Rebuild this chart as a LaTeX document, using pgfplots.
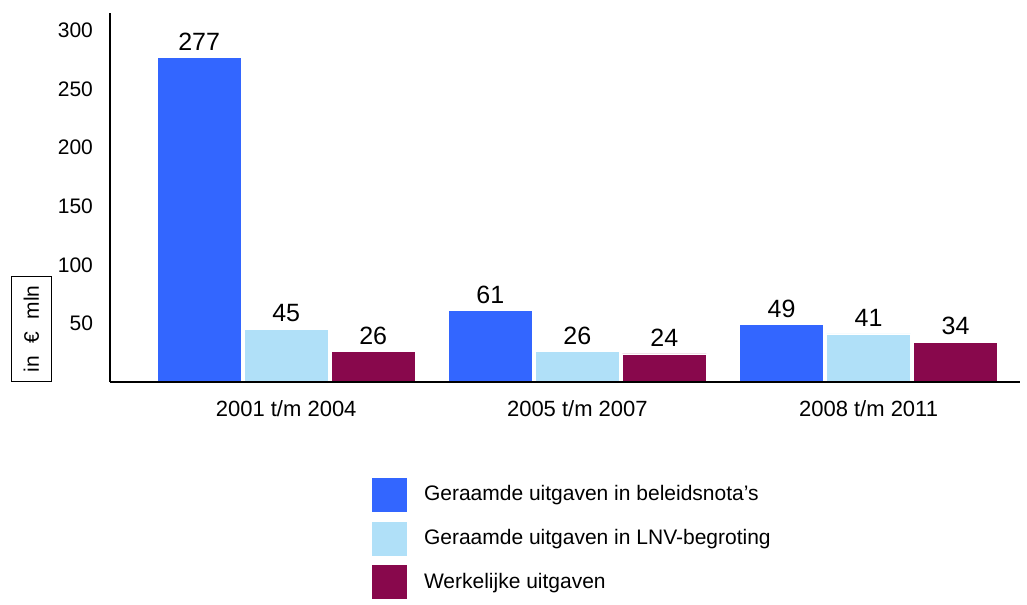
\documentclass[border=0pt]{standalone}
\usepackage{pgfplots}
\pgfplotsset{compat=1.18}
\usepackage{fontspec}
\setmainfont{Liberation Sans}
\definecolor{cA}{RGB}{51,102,255}
\definecolor{cB}{RGB}{176,224,248}
\definecolor{cC}{RGB}{136,8,76}
\begin{document}
\begin{tikzpicture}
\begin{axis}[
  name=ax,
  width=455pt, height=184.5pt, scale only axis,
  axis on top,
  ybar=1.5pt, bar width=42pt,
  xmin=-0.605, xmax=2.52, ymin=0, ymax=315,
  xtick={0,1,2}, xticklabels={2001 t/m 2004,2005 t/m 2007,2008 t/m 2011},
  ytick={50,100,150,200,250,300},
  major tick length=0pt,
  axis x line*=bottom, axis y line*=left,
  axis line style={black, line width=0.6pt, -},
  /pgf/number format/assume math mode=true,
  tick label style={font=\fontsize{10.5}{12}\selectfont},
  yticklabel style={xshift=-5pt},
  xticklabel style={yshift=-5.5pt, font=\fontsize{11}{13}\selectfont},
  nodes near coords,
  every node near coord/.append style={font=\fontsize{12.5}{14}\selectfont, black},
  legend style={at={(axis description cs:0.28,-0.245)}, anchor=north west, draw=none,
    font=\fontsize{10.5}{12}\selectfont, row sep=4pt,
    /tikz/every odd column/.append style={column sep=6pt}},
  legend cell align=left,
  legend image code/.code={\draw[#1, draw=white, line width=0.4pt] (0pt,-8.75pt) rectangle (18pt,8.75pt);},
]
\addplot[fill=cA, draw=white, line width=0.4pt] coordinates {(0,277) (1,61) (2,49)};
\addplot[fill=cB, draw=white, line width=0.4pt] coordinates {(0,45) (1,26) (2,41)};
\addplot[fill=cC, draw=white, line width=0.4pt] coordinates {(0,26) (1,24) (2,34)};
\legend{Geraamde uitgaven in beleidsnota's, Geraamde uitgaven in LNV-begroting, Werkelijke uitgaven}
\end{axis}
\node[draw, line width=0.6pt, rotate=90, anchor=south west, minimum width=52.5pt, minimum height=20pt, inner sep=2pt, font=\fontsize{10.5}{12}\selectfont]
  at ([xshift=-29pt]ax.south west) {in\hspace{0.6em}€\hspace{0.6em}mln};
\path ([xshift=-55pt,yshift=6.5pt]ax.north west) rectangle ([xshift=3.5pt,yshift=-105pt]ax.south east);
\end{tikzpicture}
\end{document}
